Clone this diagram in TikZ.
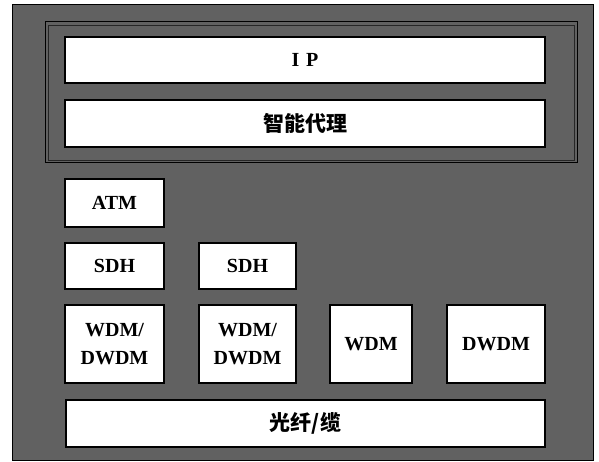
\documentclass[tikz,border=0pt]{standalone}
\usepackage{fontspec}
\setmainfont{Liberation Serif}
\newfontfamily\cjk{Noto Sans CJK SC}
\begin{document}
\begin{tikzpicture}[x=1pt,y=-1pt,
  box/.style={draw=black, line width=1.2pt, fill=white, inner sep=0pt,
    font=\fontsize{20}{24}\selectfont\bfseries, align=center},
  cjkbox/.style={box, font=\fontsize{21}{24}\selectfont\cjk\bfseries}]
\useasboundingbox (0,0) rectangle (599,462);
\fill[white] (0,0) rectangle (599,462);
\path[fill=black!62, draw=black, line width=1pt] (12,5) rectangle (593,460);
% inner double frame
\draw[black, line width=1pt] (45,22) rectangle (577,163);
\draw[black!85, line width=0.6pt] (48,25) rectangle (574,160);
% upper boxes
\node[box, minimum width=480pt, minimum height=46pt] (ip) at (305,60) {I\,\,P};
\node[cjkbox, minimum width=480pt, minimum height=47pt] (agent) at (305,123.5) {智能代理};
% lower boxes
\node[box, minimum width=99pt, minimum height=48pt] (atm) at (114.5,203) {ATM};
\node[box, minimum width=99pt, minimum height=46pt] (sdh1) at (114.5,266) {SDH};
\node[box, minimum width=97pt, minimum height=46pt] (sdh2) at (247.5,266) {SDH};
\node[box, minimum width=99pt, minimum height=78pt] (wd1) at (114.5,344) {WDM/\\[4pt]DWDM};
\node[box, minimum width=97pt, minimum height=78pt] (wd2) at (247.5,344) {WDM/\\[4pt]DWDM};
\node[box, minimum width=82pt, minimum height=78pt] (wdm) at (371,344) {WDM};
\node[box, minimum width=98pt, minimum height=78pt] (dwdm) at (496,344) {DWDM};
\node[cjkbox, minimum width=479pt, minimum height=47pt] (fiber) at (305.5,423.5) {光纤/缆};
\end{tikzpicture}
\end{document}
